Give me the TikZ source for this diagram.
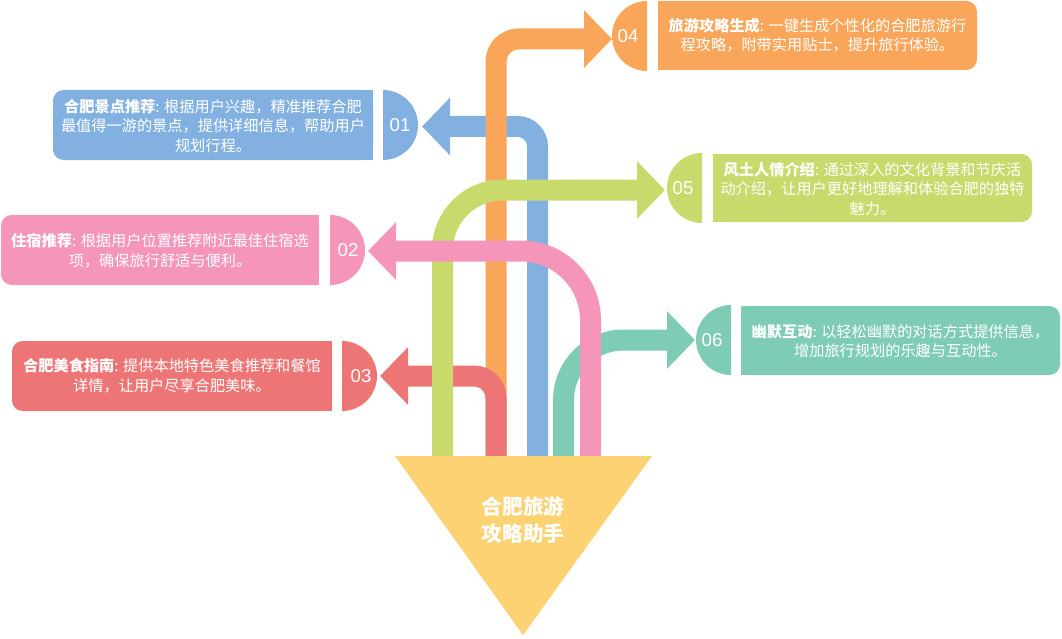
\documentclass[tikz,border=0pt]{standalone}
\usepackage{fontspec}
\setmainfont{Noto Sans CJK SC}
\newfontfamily\numfont{Liberation Sans}
\usetikzlibrary{arrows.meta}
\definecolor{corange}{HTML}{F9A65A}
\definecolor{cblue}{HTML}{82B1E1}
\definecolor{cgreen}{HTML}{C8DA6B}
\definecolor{cpink}{HTML}{F495B9}
\definecolor{cred}{HTML}{EE7575}
\definecolor{cteal}{HTML}{7ECCB5}
\definecolor{cyellow}{HTML}{FDD273}
\begin{document}
\begin{tikzpicture}[x=0.75pt,y=-0.75pt,
  flow/.style={line width=15.75pt, -{Triangle[length=21pt,width=42pt]}, rounded corners=#1},
  txt/.style={text=white, align=center, inner sep=0pt, font=\fontsize{11.4pt}{14.6pt}\selectfont},
  num/.style={text=white, inner sep=0pt, font=\numfont\fontsize{14pt}{15pt}\selectfont},
  hubtxt/.style={text=white, align=center, inner sep=0pt, font=\fontsize{15.5pt}{20.5pt}\selectfont\bfseries}]
\useasboundingbox (0,0) rectangle (1062,638);

% stem start points on the triangle top
\coordinate (sB) at (537.5,456);
\coordinate (sO) at (496,456);
\coordinate (sR) at (496,456);
\coordinate (sG) at (442.5,456);
\coordinate (sP) at (590.5,456);
\coordinate (sT) at (563.5,456);
% arrow tips
\coordinate (t01) at (422,126.5);
\coordinate (t04) at (612,39);
\coordinate (t03) at (380,376);
\coordinate (t05) at (665,190);
\coordinate (t02) at (368,251);
\coordinate (t06) at (695,340);

% text boxes
\fill[cblue, rounded corners=8pt] (53,90) rectangle (373,160);
\fill[cblue] (200,90) rectangle (373,160);
\fill[cpink, rounded corners=8pt] (1,215) rectangle (319,285);
\fill[cpink] (150,215) rectangle (319,285);
\fill[cred, rounded corners=8pt] (12,341) rectangle (332,411);
\fill[cred] (150,341) rectangle (332,411);
\fill[corange, rounded corners=8pt] (658,1) rectangle (977,70);
\fill[corange] (658,1) rectangle (800,70);
\fill[cgreen, rounded corners=8pt] (713,154) rectangle (1032,222);
\fill[cgreen] (713,154) rectangle (850,222);
\fill[cteal, rounded corners=8pt] (741,306) rectangle (1060,375);
\fill[cteal] (741,306) rectangle (900,375);

% half disks
\begin{scope}\clip (383,80) rectangle (430,170); \fill[cblue] (383,125) circle[radius=35]; \end{scope}
\begin{scope}\clip (330,205) rectangle (380,295); \fill[cpink] (330,250) circle[radius=35]; \end{scope}
\begin{scope}\clip (342,331) rectangle (390,421); \fill[cred] (342,376) circle[radius=35]; \end{scope}
\begin{scope}\clip (600,-10) rectangle (647,80); \fill[corange] (647,36) circle[radius=35]; \end{scope}
\begin{scope}\clip (655,140) rectangle (702,235); \fill[cgreen] (702,188) circle[radius=35]; \end{scope}
\begin{scope}\clip (684,295) rectangle (731,385); \fill[cteal] (731,340) circle[radius=35]; \end{scope}

\node[num] (n01) at (400,125) {01};
\node[num] (n02) at (348,250) {02};
\node[num] (n03) at (361,376) {03};
\node[num] (n04) at (628,36) {04};
\node[num] (n05) at (683,188) {05};
\node[num] (n06) at (712,340) {06};

% connectors (drawing order gives the overlaps)
\draw[flow=15pt, cblue] (sB) -- (sB |- t01) -- (t01);
\draw[flow=17pt, corange] (sO) -- (sO |- t04) -- (t04);
\draw[flow=16.5pt, cred] (sR) -- (sR |- t03) -- (t03);
\draw[flow=45pt, cgreen] (sG) -- (sG |- t05) -- (t05);
\draw[flow=45pt, cteal] (sT) -- (sT |- t06) -- (t06);
\draw[flow=52pt, cpink] (sP) -- (sP |- t02) -- (t02);

% hub
\fill[cyellow] (395,456) -- (652,456) -- (523,635) -- cycle;
\node[hubtxt] (hub) at (523,520) {合肥旅游\\攻略助手};

% texts
\node[txt] (b01) at (213,126) {{\bfseries 合肥景点推荐}: 根据用户兴趣，精准推荐合肥\\最值得一游的景点，提供详细信息，帮助用户\\规划行程。};
\node[txt] (b02) at (160,250.5) {{\bfseries 住宿推荐}: 根据用户位置推荐附近最佳住宿选\\项，确保旅行舒适与便利。};
\node[txt] (b03) at (172,375.5) {{\bfseries 合肥美食指南}: 提供本地特色美食推荐和餐馆\\详情，让用户尽享合肥美味。};
\node[txt] (b04) at (817.5,35) {{\bfseries 旅游攻略生成}: 一键生成个性化的合肥旅游行\\程攻略，附带实用贴士，提升旅行体验。};
\node[txt] (b05) at (872.5,189) {{\bfseries 风土人情介绍}: 通过深入的文化背景和节庆活\\动介绍，让用户更好地理解和体验合肥的独特\\魅力。};
\node[txt] (b06) at (900.5,341) {{\bfseries 幽默互动}: 以轻松幽默的对话方式提供信息，\\增加旅行规划的乐趣与互动性。};
\end{tikzpicture}
\end{document}
